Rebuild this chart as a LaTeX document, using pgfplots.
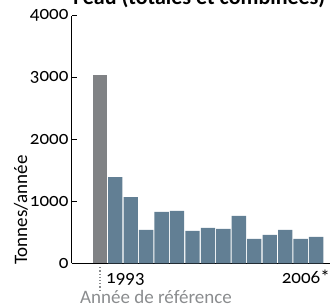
\documentclass[border=0pt]{standalone}
\usepackage{fontspec}
\setmainfont[Numbers=OldStyle]{Carlito}
\usepackage{pgfplots}
\pgfplotsset{compat=1.18}
\definecolor{barblue}{HTML}{627F94}
\definecolor{bargray}{HTML}{808285}
\definecolor{txtgray}{HTML}{8A8C8E}
\newcommand{\fs}{\fontsize{19}{22}\selectfont}
\begin{document}
\begin{tikzpicture}
\begin{axis}[
  name=ax, at={(0pt,0pt)}, anchor=south west,
  scale only axis, width=258pt, height=247.8pt,
  xmin=-1.8, xmax=14.9, ymin=0, ymax=4000,
  axis lines=left, axis line style={-, line width=1pt, black},
  ytick={0,1000,2000,3000,4000}, xtick=\empty,
  tick align=inside, major tick length=5pt, tick style={black, line width=0.8pt},
  yticklabel style={font=\fs},
  /pgf/number format/assume math mode=true,
  scaled y ticks=false, /pgf/number format/1000 sep={},
  ybar, bar width=0.93, clip=false,
]
\addplot[fill=bargray, draw=none, bar shift=0pt] coordinates {(0,3040)};
\addplot[fill=barblue, draw=none, bar shift=0pt] coordinates {
(1,1390) (2,1070) (3,540) (4,830) (5,845) (6,525) (7,570) (8,555) (9,765) (10,395) (11,460) (12,540) (13,395) (14,425)};
\coordinate (refbar) at (axis cs:0,0);
\end{axis}
\draw[txtgray, line width=1.4pt, dash pattern=on 1.2pt off 2pt] ([yshift=-4pt]refbar) -- ([yshift=-27pt]refbar);
\pgfresetboundingbox
\coordinate (O) at ([shift={(-72pt,-44.7pt)}]ax.south west);
\useasboundingbox (O) rectangle ([shift={(330pt,308pt)}]O);
\node[rotate=90, font=\fs] at ([shift={(21pt,98pt)}]O) {Tonnes/année};
\node[anchor=base west, font=\fs, inner sep=0pt] at ([shift={(106pt,24pt)}]O) {1993};
\node[anchor=base east, font=\fs, inner sep=0pt] at ([shift={(330pt,24pt)}]O) {2006*};
\node[anchor=base west, font=\fs, inner sep=0pt, text=txtgray] at ([shift={(80pt,4pt)}]O) {Année de référence};
\node[anchor=base west, font=\fontsize{22}{26}\selectfont\bfseries, inner sep=0pt] at ([shift={(73pt,303pt)}]O) {l’eau (totales et combinées)};
\end{tikzpicture}
\end{document}
